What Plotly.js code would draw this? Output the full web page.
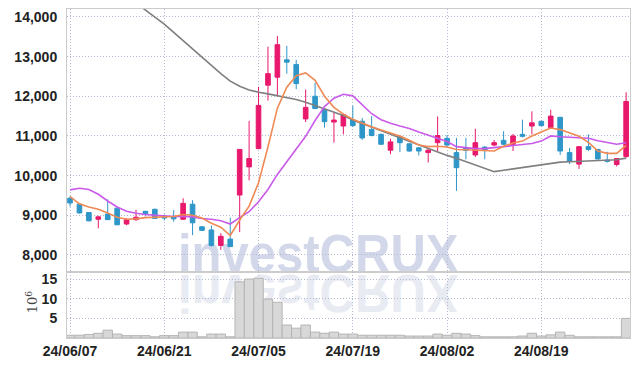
<!DOCTYPE html>
<html><head><meta charset="utf-8">
<script src="https://cdn.plot.ly/plotly-3.0.1.min.js"></script>
<style>
html,body{margin:0;padding:0;background:#fff;}
#wrap{position:relative;width:639px;height:366px;overflow:hidden;background:#fff;}
.wm{position:absolute;left:178px;font-family:"Liberation Sans",Arial,sans-serif;font-weight:bold;font-size:49px;line-height:50px;white-space:nowrap;}
#wm1{top:230px;color:rgb(210,215,233);transform-origin:0 42px;transform:scaleY(1.08);}
#wm2{top:233px;color:rgb(233,235,243);transform-origin:0 42px;transform:scaleY(-1.1);}
#chart{position:absolute;left:0;top:0;width:639px;height:366px;}
</style></head>
<body>
<div id="wrap">
<div class="wm" id="wm1">investCRUX</div>
<div class="wm" id="wm2">investCRUX</div>
<div id="chart"></div>
</div>
<script>
const dates = ["2024-06-07","2024-06-10","2024-06-11","2024-06-12","2024-06-13","2024-06-14","2024-06-17","2024-06-18","2024-06-19","2024-06-20","2024-06-21","2024-06-24","2024-06-25","2024-06-26","2024-06-27","2024-06-28","2024-07-01","2024-07-02","2024-07-03","2024-07-04","2024-07-05","2024-07-08","2024-07-09","2024-07-10","2024-07-11","2024-07-12","2024-07-15","2024-07-16","2024-07-17","2024-07-18","2024-07-19","2024-07-22","2024-07-23","2024-07-24","2024-07-25","2024-07-26","2024-07-29","2024-07-30","2024-07-31","2024-08-01","2024-08-02","2024-08-05","2024-08-06","2024-08-07","2024-08-08","2024-08-09","2024-08-12","2024-08-13","2024-08-14","2024-08-16","2024-08-19","2024-08-20","2024-08-21","2024-08-22","2024-08-23","2024-08-26","2024-08-27","2024-08-28","2024-08-29","2024-08-30"];
const open  = [9430,9280,9070,8900,9030,9180,8780,8890,9100,9150,8980,8960,8900,9280,8710,8630,8240,8400,9510,10220,10680,12280,12480,12920,12800,11430,12000,11670,11350,11250,11400,11370,11160,11040,10640,10980,10800,10700,10580,10830,10940,10580,10700,10520,10720,10770,10890,10790,11040,11250,11370,11210,11470,10580,10290,10730,10660,10390,10280,10480];
const high  = [9480,9300,9080,8990,9400,9190,8930,9140,9110,9170,9020,9130,9430,9380,8720,8740,8550,8940,10660,11380,12240,13250,13520,13270,12920,12170,12340,11690,11590,11560,11760,11450,11500,11060,10930,11000,10820,10720,10700,11490,11020,10950,10950,11180,10740,10900,11120,11050,11410,11620,11380,11660,11480,10700,10740,11040,10670,10600,10430,12100];
const low   = [9220,9040,8850,8670,8880,8750,8750,8860,8970,8910,8870,8840,8880,8500,8600,8210,8130,8200,8580,9880,10680,11890,12000,12570,12180,11350,11680,11210,10830,11040,11230,10900,10990,10780,10540,10590,10600,10510,10330,10620,10700,9615,10410,10470,10410,10740,10770,10620,10960,11040,11240,11210,10520,10290,10170,10620,10410,10330,10230,10450];
const close = [9310,9060,8860,8960,8890,8760,8890,8950,9040,8920,8930,8910,9300,8810,8620,8240,8470,8210,10660,10430,11770,12570,13300,12860,12320,11720,11690,11360,11400,11540,11260,10950,11010,10790,10850,10830,10620,10620,10640,11010,10770,10200,10640,10830,10650,10830,10790,11000,10990,11330,11260,11500,10620,10360,10730,10660,10420,10360,10430,11870];
const volume = [0.7,0.7,0.9,1.2,2.0,1.0,0.6,0.6,0.6,0.3,0.6,0.6,1.5,1.5,0.3,1.0,1.0,0.3,14.3,15.0,15.2,9.9,9.1,3.3,2.5,3.3,1.5,1.2,1.5,1.0,1.0,0.7,0.7,0.7,0.7,0.7,0.5,0.5,0.5,1.0,0.7,1.2,1.0,0.6,0.3,0.3,0.3,0.3,0.5,1.2,0.5,0.8,1.5,0.7,0.3,0.3,0.3,0.3,0.3,5.0];
const maShort = [9470,9290,9210,9150,9060,8950,8900,8910,8940,8950,8950,8970,9020,9000,8930,8800,8700,8490,8880,9230,9820,10720,11700,12230,12520,12590,12400,12000,11720,11550,11420,11320,11230,11150,11070,11000,10890,10770,10730,10740,10720,10660,10650,10640,10630,10620,10740,10820,10870,11000,11100,11200,11160,11080,10990,10840,10620,10560,10560,10760];
const maMid = [9640,9680,9650,9530,9360,9210,9100,9050,9020,9000,8980,8970,8970,8960,8920,8900,8860,8780,8940,9090,9340,9650,10030,10360,10680,10990,11390,11740,11950,12050,12010,11780,11560,11410,11320,11250,11190,11100,11020,10940,10860,10730,10700,10680,10680,10700,10730,10760,10780,10810,10870,11000,10980,10970,10960,10940,10880,10830,10790,10830];
const maLong = [null,null,null,null,null,null,null,14350,14180,14005,13820,13610,13400,13190,12980,12770,12570,12380,12255,12160,12100,12060,12010,11970,11920,11850,11765,11680,11600,11515,11400,11310,11225,11140,11040,10950,10860,10760,10680,10590,10510,10435,10350,10270,10185,10100,10135,10170,10210,10250,10285,10320,10340,10350,10360,10370,10380,10385,10400,10440];
const tickDates = ["2024-06-07","2024-06-21","2024-07-05","2024-07-19","2024-08-02","2024-08-19"];
const tickLabels = ["24/06/07","24/06/21","24/07/05","24/07/19","24/08/02","24/08/19"];
const priceTicks = [8000,9000,10000,11000,12000,13000,14000];
const volTicks = [5,10,15];

const RED = '#e8196c', BLUE = '#2e96c8';
const tickFont = {family:'"Liberation Sans",Arial,sans-serif', size:14, color:'#222', weight:'bold'};
const grid = '#b4b9d2';

const traces = [
  {type:'bar', x:dates, y:volume, xaxis:'x', yaxis:'y2',
   marker:{color:'#d8d8d8', line:{color:'#b4b4b4', width:1}}, hoverinfo:'skip'},
  {type:'candlestick', x:dates, open:open, high:high, low:low, close:close, xaxis:'x', yaxis:'y',
   increasing:{line:{color:RED, width:1}, fillcolor:RED},
   decreasing:{line:{color:BLUE, width:1}, fillcolor:BLUE}, whiskerwidth:0},
  {type:'scatter', mode:'lines', x:dates, y:maLong, line:{color:'#7f7f7f', width:1.6}, connectgaps:false},
  {type:'scatter', mode:'lines', x:dates, y:maMid, line:{color:'#c95aea', width:1.6}},
  {type:'scatter', mode:'lines', x:dates, y:maShort, line:{color:'#ef8a55', width:1.6}}
];

const axGrid = {showgrid:true, gridcolor:grid, griddash:'1px,2px', gridwidth:1, zeroline:false,
                showline:true, linecolor:'#cccccc', linewidth:1, ticks:''};

const layout = {
  width:639, height:366,
  margin:{l:67, r:9, t:9, b:28, pad:0},
  paper_bgcolor:'rgba(0,0,0,0)', plot_bgcolor:'rgba(0,0,0,0)',
  showlegend:false, bargap:0, boxgap:0.3,
  xaxis:Object.assign({type:'category', range:[-0.32,59.41], anchor:'y2', tickmode:'array', tickvals:tickDates, ticktext:tickLabels,
         mirror:'all', tickfont:tickFont, rangeslider:{visible:false}}, axGrid),
  yaxis:Object.assign({domain:[0.2006,1], range:[7570,14200], tickmode:'array', tickvals:priceTicks, tickformat:',',
         mirror:true, ticklabelstandoff:6, tickfont:tickFont}, axGrid),
  yaxis2:Object.assign({domain:[0,0.2006], range:[0,16.8], tickmode:'array', tickvals:volTicks,
         mirror:true, ticklabelstandoff:6, tickfont:tickFont}, axGrid),
  annotations:[{xref:'paper', yref:'paper', x:-0.063, y:0.11, text:'10<sup>6</sup>', textangle:-90, showarrow:false,
                font:{family:'"DejaVu Serif",serif', size:13, color:'#444'}, xanchor:'center', yanchor:'middle'}]
};

Plotly.newPlot('chart', traces, layout, {staticPlot:true});
</script>
</body></html>
